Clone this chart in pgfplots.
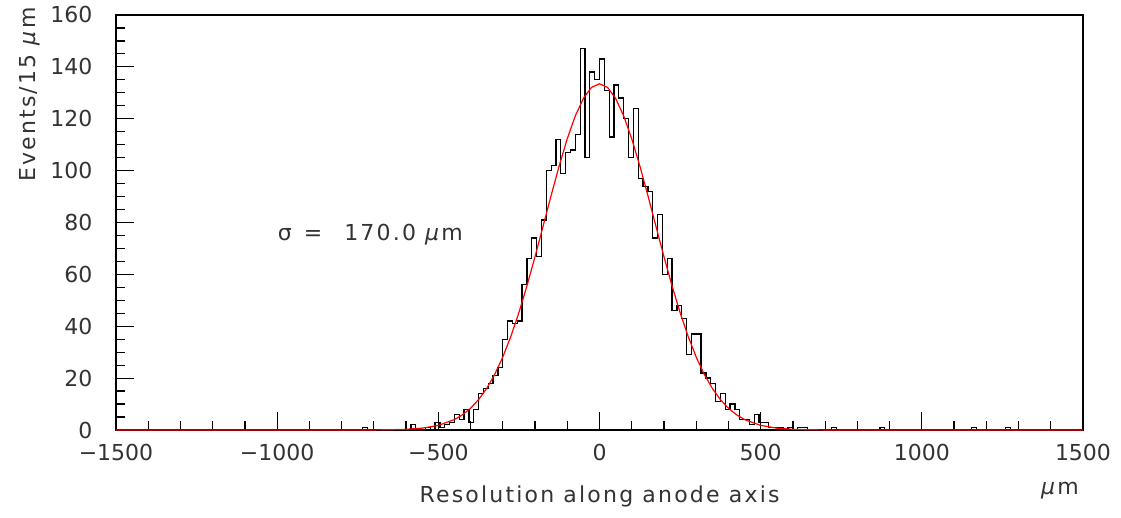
\documentclass[border=0pt]{standalone}
\usepackage{fontspec}
\setmainfont{DejaVu Sans}
\newfontfamily\widefont[LetterSpace=10]{DejaVu Sans}
\usepackage{pgfplots}
\pgfplotsset{compat=1.18}
\begin{document}
\fontsize{11}{13}\selectfont
\begin{tikzpicture}
\begin{axis}[
  at={(0pt,0pt)}, anchor=south west,
  scale only axis,
  width=483.5pt, height=207.5pt,
  xmin=-1500, xmax=1500, ymin=0, ymax=160,
  xtick={-1500,-1000,-500,0,500,1000,1500},
  xticklabels={−1500,−1000,−500,0,500,1000,1500},
  ytick={0,20,40,60,80,100,120,140,160},
  minor x tick num=4,
  minor y tick num=3,
  tick align=inside,
  xtick pos=bottom, ytick pos=left,
  major tick length=9pt, minor tick length=4.5pt,
  tick style={black, line width=0.6pt},
  axis line style={black, line width=0.7pt},
  /pgf/number format/assume math mode=true,
  ticklabel style={font=\fontsize{11}{13}\selectfont, text=black!80},
  yticklabel style={xshift=-8pt},
  xticklabel style={yshift=-3pt},
  clip=false,
]
\addplot[const plot, black, line width=0.65pt] coordinates {
(-1500,0) (-735,1) (-720,0) (-585,2) (-570,0) (-540,1) (-525,0)
(-510,3) (-495,1) (-480,2) (-465,3) (-450,6) (-435,4) (-420,8) (-405,3)
(-390,8) (-375,14) (-360,16) (-345,18) (-330,21) (-315,24) (-300,35)
(-285,42) (-270,41) (-255,42) (-240,56) (-225,66) (-210,74) (-195,67)
(-180,81) (-165,100) (-150,102) (-135,112) (-120,99) (-105,107) (-90,108)
(-75,114) (-60,147) (-45,105) (-30,138) (-15,135) (0,143) (15,131)
(30,113) (45,133) (60,128) (75,120) (90,105) (105,124) (120,97)
(135,94) (150,92) (165,74) (180,83) (195,60) (210,66) (225,46)
(240,48) (255,43) (270,29) (285,37) (300,37) (315,22) (330,20)
(345,18) (360,11) (375,14) (390,8) (405,10) (420,8) (435,4)
(450,4) (465,2) (480,6) (495,3) (510,3) (525,1) (540,1) (555,1)
(570,0) (585,1) (600,0) (615,1) (630,1) (645,0)
(720,1) (735,0) (870,1) (885,0) (1155,1) (1170,0) (1260,1) (1275,0) (1500,0)
};
\addplot[red, line width=0.6pt] coordinates {
(-1500,0) (-700,0.028) (-650,0.089) (-600,0.263) (-550,0.71) (-500,1.77)
(-450,4.02) (-425,5.87) (-400,8.38) (-375,11.72) (-350,16.04) (-325,21.47)
(-300,28.14) (-275,36.08) (-250,45.28) (-225,55.60) (-200,66.82) (-175,78.59)
(-150,90.45) (-125,101.88) (-100,112.29) (-75,121.12) (-50,127.85) (-25,132.06)
(0,133.5)
(25,132.06) (50,127.85) (75,121.12) (100,112.29) (125,101.88) (150,90.45)
(175,78.59) (200,66.82) (225,55.60) (250,45.28) (275,36.08) (300,28.14)
(325,21.47) (350,16.04) (375,11.72) (400,8.38) (425,5.87) (450,4.02)
(500,1.77) (550,0.71) (600,0.263) (650,0.089) (700,0.028) (1500,0)
};
\node[anchor=base west, text=black!80, inner sep=0pt] at (axis cs:-999,73.2)
  {\widefont σ\hspace{6pt}=\hspace{11pt}170.0 \textit{μ}m};
\end{axis}
\node[rotate=90, anchor=base east, text=black!80, inner sep=0pt] at (-40pt,211.5pt)
  {\widefont Events/15 \textit{μ}m};
\node[anchor=base, text=black!80, inner sep=0pt] at (241.75pt,-36.5pt)
  {\widefont Resolution along anode axis};
\node[anchor=base, text=black!80, inner sep=0pt] at (472pt,-32.5pt)
  {\widefont\textit{μ}m};
\pgfresetboundingbox
\path[use as bounding box] (-58pt,-44pt) rectangle (502.5pt,215pt);
\end{tikzpicture}
\end{document}
